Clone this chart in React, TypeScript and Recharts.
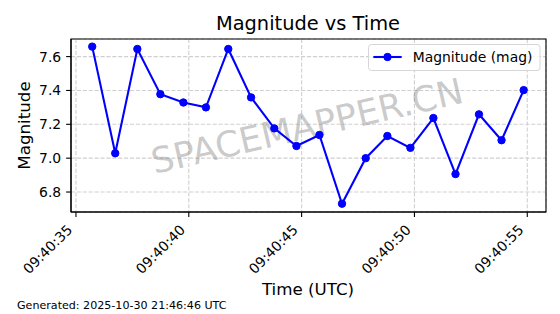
import React from "react";
import {
  LineChart,
  Line,
  XAxis,
  YAxis,
  CartesianGrid,
  ReferenceArea,
  Customized,
} from "recharts";

// seconds past 09:40:00 UTC for each sample
const seconds = [
  35.72, 36.74, 37.72, 38.74, 39.76, 40.76, 41.75, 42.76, 43.79, 44.77,
  45.79, 46.79, 47.84, 48.8, 49.82, 50.84, 51.82, 52.86, 53.86, 54.84,
];
const magnitudes = [
  7.659, 7.029, 7.645, 7.378, 7.329, 7.3, 7.645, 7.359, 7.176, 7.072,
  7.137, 6.731, 7.0, 7.131, 7.061, 7.237, 6.906, 7.259, 7.106, 7.402,
];
const xTicks = [35, 40, 45, 50, 55];
const xTickLabels = ["09:40:35", "09:40:40", "09:40:45", "09:40:50", "09:40:55"];
const yTicks = [6.8, 7.0, 7.2, 7.4, 7.6];
const seriesName = "Magnitude (mag)";
const xDomain = [34.78, 55.83];
const yDomain = [6.682, 7.704];

const data = seconds.map((t, i) => ({ t, mag: magnitudes[i] }));

const FONT = "DejaVu Sans";
const BLUE = "#0000ff";

const XTick = (props: any) => {
  const { x, y, payload } = props;
  const idx = xTicks.indexOf(payload.value);
  const label = idx >= 0 ? xTickLabels[idx] : "";
  return (
    <g transform={`translate(${x - 2.8},${y + 8.9})`}>
      <text
        transform="rotate(-45)"
        textAnchor="end"
        fill="#000"
        fontSize={13.9}
        fontFamily={FONT}
      >
        {label}
      </text>
    </g>
  );
};

// watermark, titles, legend
const Overlay = () => (
  <g fontFamily={FONT} fill="#000">
    <text
      x={307}
      y={126}
      fontSize={35.5}
      fill="#808080"
      fillOpacity={0.42}
      textAnchor="middle"
      dominantBaseline="central"
      transform="rotate(-13, 307, 126)"
    >
      SPACEMAPPER.CN
    </text>
    <text x={308} y={30} fontSize={19.4} textAnchor="middle">
      Magnitude vs Time
    </text>
    <text x={308} y={295} fontSize={16.7} textAnchor="middle">
      Time (UTC)
    </text>
    <text
      x={0}
      y={0}
      fontSize={16.7}
      textAnchor="middle"
      transform="translate(29.5,125.5) rotate(-90)"
    >
      Magnitude
    </text>
    <text x={17} y={309} fontSize={11.1}>
      Generated: 2025-10-30 21:46:46 UTC
    </text>
    <g>
      <rect
        x={368.5}
        y={44.5}
        width={171.5}
        height={26}
        rx={3}
        fill="#fff"
        fillOpacity={0.8}
        stroke="#d6d6d6"
        strokeWidth={1}
      />
      <line x1={373.3} y1={57} x2={401.7} y2={57} stroke={BLUE} strokeWidth={2.08} />
      <circle cx={387.5} cy={57} r={3.7} fill={BLUE} stroke={BLUE} strokeWidth={1} />
      <text x={412.7} y={62} fontSize={13.9}>
        {seriesName}
      </text>
    </g>
  </g>
);

export default function App() {
  return (
    <div style={{ position: "absolute", left: 0, top: 0, background: "#fff" }}>
      <LineChart
        width={560}
        height={314}
        data={data}
        margin={{ top: 39, right: 14, left: 0, bottom: 0 }}
      >
        <CartesianGrid stroke="#d0d0d0" strokeWidth={1.1} strokeDasharray="4.1 1.8" />
        <XAxis
          dataKey="t"
          type="number"
          domain={xDomain}
          ticks={xTicks}
          allowDataOverflow
          height={102}
          tickSize={4.9}
          tickMargin={4.9}
          tickLine={{ stroke: "#000", strokeWidth: 1.1 }}
          axisLine={{ stroke: "#000", strokeWidth: 1.1 }}
          tick={<XTick />}
          interval={0}
        />
        <YAxis
          type="number"
          domain={yDomain}
          ticks={yTicks}
          allowDataOverflow
          width={71}
          tickSize={4.9}
          tickMargin={4.9}
          tickFormatter={(v: number) => v.toFixed(1)}
          tick={{ fill: "#000", fontSize: 13.9, fontFamily: FONT }}
          tickLine={{ stroke: "#000", strokeWidth: 1.1 }}
          axisLine={{ stroke: "#000", strokeWidth: 1.1 }}
          interval={0}
        />
        <Line
          dataKey="mag"
          name={seriesName}
          stroke={BLUE}
          strokeWidth={2.08}
          dot={{ r: 3.7, fill: BLUE, stroke: BLUE, strokeWidth: 1 }}
          activeDot={false}
          isAnimationActive={false}
        />
        <ReferenceArea
          x1={xDomain[0]}
          x2={xDomain[1]}
          y1={yDomain[0]}
          y2={yDomain[1]}
          fill="none"
          stroke="#000"
          strokeWidth={1.1}
          ifOverflow="visible"
        />
        <Customized component={<Overlay />} />
      </LineChart>
    </div>
  );
}
